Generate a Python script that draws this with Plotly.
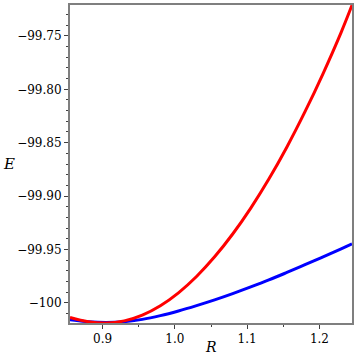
import plotly.graph_objects as go

R = [0.855, 0.88, 0.905, 0.93, 0.955, 0.98, 1.005, 1.03, 1.055, 1.08,
     1.105, 1.13, 1.155, 1.18, 1.205, 1.23, 1.245]
E_red = [-100.0138, -100.0177, -100.0190, -100.0170, -100.0116, -100.0028,
         -99.9907, -99.9754, -99.9570, -99.9356, -99.9113, -99.8841,
         -99.8540, -99.8210, -99.7852, -99.7466, -99.7212]
E_blue = [-100.0160, -100.0178, -100.0185, -100.01775, -100.0156, -100.0121,
          -100.00773, -100.00273, -99.99735, -99.99148, -99.98523, -99.97868,
          -99.97163, -99.96438, -99.95698, -99.94948, -99.94493]

y_tickvals = [-100.0, -99.95, -99.90, -99.85, -99.80, -99.75]
y_ticktext = ["\u2212100", "\u221299.95", "\u221299.90", "\u221299.85", "\u221299.80", "\u221299.75"]
x_tickvals = [0.9, 1.0, 1.1, 1.2]
x_ticktext = ["0.9", "1.0", "1.1", "1.2"]

fig = go.Figure()
fig.add_trace(go.Scatter(x=R, y=E_blue, mode="lines", line=dict(color="#0000ff", width=3, shape="spline"),
                         showlegend=False, hoverinfo="skip"))
fig.add_trace(go.Scatter(x=R, y=E_red, mode="lines", line=dict(color="#ff0000", width=3, shape="spline"),
                         showlegend=False, hoverinfo="skip"))

axis_common = dict(showgrid=False, zeroline=False, showline=True, linecolor="#7f7f7f", linewidth=2,
                   mirror=True, ticks="outside", ticklen=4, tickwidth=1, tickcolor="#404040",
                   tickfont=dict(family="DejaVu Serif", size=12, color="#000000"))

fig.update_xaxes(range=[0.855, 1.245], tickvals=x_tickvals, ticktext=x_ticktext,
                 minor=dict(dtick=0.05, tick0=0.85, ticks="outside", ticklen=2, tickcolor="#404040"),
                 **axis_common)
fig.update_yaxes(range=[-100.019, -99.721], tickvals=y_tickvals, ticktext=y_ticktext,
                 minor=dict(dtick=0.01, tick0=-100.0, ticks="outside", ticklen=2, tickcolor="#404040"),
                 **axis_common)

fig.add_annotation(text="<i>E</i>", xref="paper", yref="paper", x=-0.217, y=0.5,
                   xanchor="center", yanchor="middle", showarrow=False,
                   font=dict(family="DejaVu Serif", size=15, color="#000000"))
fig.add_annotation(text="<i>R</i>", xref="paper", yref="paper", x=0.5, y=-0.076,
                   xanchor="center", yanchor="middle", showarrow=False,
                   font=dict(family="DejaVu Serif", size=14, color="#000000"))

fig.update_layout(width=355, height=355, margin=dict(l=70, r=1, t=5, b=32),
                  plot_bgcolor="white", paper_bgcolor="white")

fig.write_html("out.html", config={"displayModeBar": False},
               post_script="document.body.style.margin='0px';document.body.style.overflow='hidden';")
